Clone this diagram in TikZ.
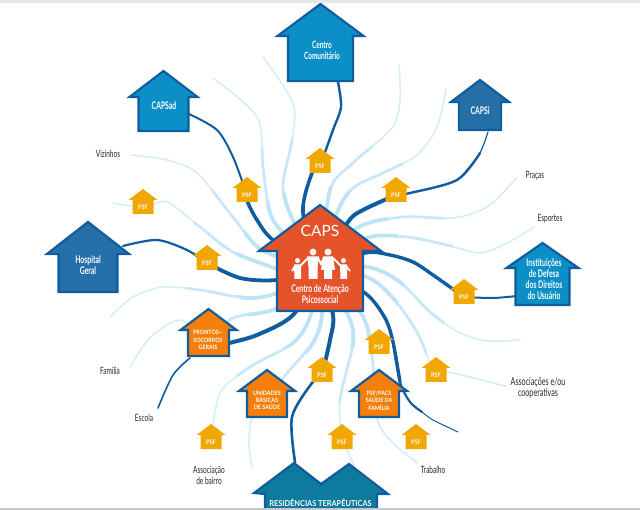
\documentclass[tikz,border=0pt]{standalone}
\usepackage{fontspec}
\setmainfont[FakeStretch=0.65]{Lato}
\newfontfamily\capsfont{Lato}
\newfontfamily\widefont[FakeStretch=0.9]{Lato}
\usetikzlibrary{calc}

\definecolor{linkdark}{HTML}{0F5C9E}
\definecolor{linklight}{HTML}{BFE3F6}
\definecolor{capsred}{HTML}{E5532A}
\definecolor{midblue}{HTML}{0C8FC6}
\definecolor{steelblue}{HTML}{2670AA}
\definecolor{carrot}{HTML}{F57F0A}
\definecolor{psfgold}{HTML}{F0A800}
\definecolor{teal}{HTML}{0D7A9E}

\pgfdeclarelayer{back}
\pgfsetlayers{back,main}

\tikzset{
  hull/.style={draw=linkdark, line width=2.2pt, line join=miter, fill=#1},
  psfhull/.style={draw=none, fill=psfgold},
  body/.style={text=white, font=\bfseries, inner sep=0pt, align=center, minimum width=#1, minimum height=30pt},
  small/.style={text=white, font=\widefont\bfseries\fontsize{6}{7.3}\selectfont, inner sep=0pt, align=center},
  psflabel/.style={text=white, font=\widefont\bfseries\fontsize{6.2}{7}\selectfont, inner sep=0pt, minimum width=21pt, minimum height=14pt},
  place/.style={text=black!85, font=\fontsize{10}{10.8}\selectfont, inner sep=0pt, align=center},
  darklink/.style={draw=linkdark, line width=#1, line cap=round, line join=round},
  darklink/.default=3pt,
  lightlink/.style={draw=linklight, line width=#1, line cap=round, line join=round},
  lightlink/.default=2.4pt
}

\newcommand{\housedraw}[7]{\draw[#1] (#2,#3) -- (#2+#4,#5) -- (#2+#6,#5) -- (#2+#6,#7) -- (#2-#6,#7) -- (#2-#6,#5) -- (#2-#4,#5) -- cycle;}

% all pale strokes, outer end first
\newcommand{\palepaths}{
plot[smooth] coordinates {($(vizinhos.east)+(11,1)$) (167,160) (197,173) (233,217) (262,250) (caps)}
plot[smooth] coordinates {(113,203) (psfb) (167,202) (200,227) (233,252) (280,270)}
plot[smooth] coordinates {(enda) (257,117) (263,167) (270,213) (285,235) (caps)}
plot[smooth] coordinates {(endb) (293,103) (292,140) (283,187) (295,225) (caps)}
plot[smooth] coordinates {(endc) (400,100) (392,128) (353,163) (330,190) (caps)}
plot[smooth] coordinates {(endd) (437,127) (417,155) (383,173) (353,188) (337,213) (caps)}
plot[smooth] coordinates {($(pracas.west)+(-9,2)$) (487,207) (453,218) (403,217) (357,228) (caps)}
plot[smooth] coordinates {($(esportes.west)+(-3,8)$) (507,243) (480,253) (447,245) (407,237) (367,238) (caps)}
plot[smooth] coordinates {(ende) (487,341) (460,333) (430,312) (400,282) (368,267) (caps)}
plot[smooth] coordinates {($(cooperativas.west)+(-4,-1)$) (448,372) (psfh) (417,332) (393,298) (367,277) (caps)}
plot[smooth] coordinates {($(trabalho.north west)+(-3,-3)$) (392,442) (377,418) (372,355) (362,315) (caps)}
plot[smooth] coordinates {($(residencias.north)+(40,-18)$) (347,450) (psfk) (340,400) (353,343) (348,315) (caps)}
plot[smooth] coordinates {(psfj) (220,393) (250,367) (293,343) (310,317) (caps)}
plot[smooth] coordinates {(endg) (249,443) (252,418) (unidades) (287,373) (313,343) (322,315) (caps)}
plot[smooth] coordinates {(endf) (133,297) (163,287) (200,290) (247,298) (277,293) (caps)}
plot[smooth] coordinates {(130,367) (150,338) (180,320) (prontos) (233,318) (277,308) (caps)}
}

\begin{document}
\begin{tikzpicture}[x=1pt,y=-1pt]
\useasboundingbox (0,0) rectangle (640,510);

% big houses
\housedraw{hull=midblue}{320.5}{4}{43}{36}{32.5}{81}
\node[body=65pt, font=\bfseries\fontsize{10}{11}\selectfont] (centro) at (322,50) {Centro\\Comunitário};
\housedraw{hull=midblue}{163.5}{71}{34}{97}{25}{131}
\node[body=50pt, font=\bfseries\fontsize{10.5}{11}\selectfont] (capsad) at (164,106) {CAPSad};
\housedraw{hull=steelblue}{480}{80}{29}{102}{21}{130}
\node[body=42pt, font=\bfseries\fontsize{10.5}{11}\selectfont] (capsi) at (480,111) {CAPSi};
\housedraw{hull=steelblue}{88}{222}{41}{254}{29.5}{292}
\node[body=59pt, font=\bfseries\fontsize{10.5}{11}\selectfont] (hospital) at (88,265.5) {Hospital\\Geral};
\housedraw{hull=midblue}{542.5}{243}{36}{268}{27}{305}
\node[body=54pt, font=\bfseries\fontsize{10.5}{10.8}\selectfont] (defesa) at (544,279) {Instituições\\de Defesa\\dos Direitos\\do Usuário};
\housedraw{hull=carrot}{208.5}{309}{28}{330}{20.5}{356}
\node[small] (prontos) at (208,340) {PRONTOS--\\SOCORROS\\GERAIS};
\housedraw{hull=carrot}{267}{370}{28}{391}{20}{417}
\node[small] (unidades) at (267,400.5) {UNIDADES\\BÁSICAS\\DE SAÚDE};
\housedraw{hull=carrot}{379}{370}{28}{391}{20}{417}
\node[small] (pacs) at (379,400.5) {PSF/PACS\\SAÚDE DA\\FAMÍLIA};

% residencias has two roofs
\draw[hull=teal] (254,493) -- (294,463) -- (321,484) -- (349,464) -- (388,494) -- (377,494) -- (377,512) -- (265,512) -- (265,494) -- cycle;
\node[text=white, font=\widefont\bfseries\fontsize{8.2}{9}\selectfont, inner sep=0pt] (residencias) at (320.5,503) {RESIDÊNCIAS TERAPÊUTICAS};

% central house
\housedraw{hull=capsred}{320}{205}{61}{251}{43}{311}
\node[text=white, font=\capsfont\fontsize{15.5}{18}\selectfont, inner sep=0pt] (capstitle) at (320,231) {CAPS};
\node[text=white, font=\bfseries\fontsize{10.6}{11}\selectfont, inner sep=0pt, align=center] (capstext) at (320,294.5) {Centro de Atenção\\Psicossocial};
\coordinate (caps) at (320,270);

% family
\fill[white] (313,252) circle (3.4) (328,252) circle (3.4) (297.5,260.5) circle (2.5) (343.5,260.5) circle (2.5);
\fill[white] (307,256.5) -- (319,256.5) -- (317.5,267) -- (317.5,279) -- (308.5,279) -- (308.5,267) -- cycle;
\fill[white] (323,256.5) -- (333,256.5) -- (335,270) -- (332,270) -- (332,279) -- (324,279) -- (324,270) -- (321,270) -- cycle;
\fill[white] (294,264.5) -- (301,264.5) -- (301,279) -- (294.5,279) -- cycle;
\fill[white] (340,264.5) -- (347,264.5) -- (347,279) -- (340.5,279) -- cycle;
\draw[white, line width=1.8pt] (308,258) -- (299,267) (318,258) -- (321,264) -- (324,258) (333,258) -- (342,267) (295,266) -- (292,271) (346,266) -- (350,271);

% small houses
\foreach \psfname/\px/\py in {psfa/247/177, psfb/143/189, psfc/320/148, psfd/396/177, psfe/207/245, psff/464/279, psfg/379/329, psfh/436/357, psfi/322/357, psfj/211/424, psfk/342/424, psfl/416/424} {
  \housedraw{psfhull}{\px}{\py}{14.5}{\py+11}{10.5}{\py+25}
  \node[psflabel] (\psfname) at (\px,\py+18) {PSF};
}

% places
\node[place] (vizinhos) at (108,154) {Vizinhos};
\node[place] (pracas) at (535,176) {Praças};
\node[place] (esportes) at (550,219) {Esportes};
\node[place] (familia) at (110,371) {Família};
\node[place] (escola) at (144,418) {Escola};
\node[place] (bairro) at (209,475.5) {Associação\\de bairro};
\node[place] (trabalho) at (433,470) {Trabalho};
\node[place, font=\fontsize{11}{11.2}\selectfont] (cooperativas) at (538,387.5) {Associações e/ou\\cooperativas};

\foreach \endname/\ex/\ey in {enda/213/78, endb/263/57, endc/399/65, endd/446/89, ende/520/340, endf/110/317, endg/252/467, endh/158/408, endi/458/432, capsifoot/488/132, centrofoot/338/82, capsadside/189/114, hospitalside/123/246, defesaside/517/296, prontosside/229/343, prontosfoot/190/358}
  \coordinate (\endname) at (\ex,\ey);

\begin{pgfonlayer}{back}
% pale strokes, wider near the centre
\foreach \rad/\wd/\pale in {600/1.6/65, 135/2.8/85, 85/3.8/100} {
  \begin{scope}
    \clip (caps) circle (\rad);
    \draw[lightlink=\wd, draw=linklight!\pale] \palepaths;
  \end{scope}
}

% dark strokes
\draw[darklink=2pt] plot[smooth] coordinates {(capsadside) (217,130) (233,157) (psfa)};
\draw[darklink=3.6pt] plot[smooth] coordinates {(psfa) (248,203) (257,220) (273,240) (caps)};
\draw[darklink=2.4pt] plot[smooth] coordinates {(centrofoot) (341,107) (333,130) (psfc)};
\draw[darklink=3.6pt] plot[smooth] coordinates {(psfc) (312,173) (303,213) (caps)};
\draw[darklink=1.2pt] plot[smooth] coordinates {(capsifoot) (480,153) (466,171)};
\draw[darklink=2.4pt] plot[smooth] coordinates {(480,153) (457,180) (410,193) (psfd)};
\draw[darklink=4pt] plot[smooth] coordinates {(psfd) (363,210) (348,222) (caps)};
\draw[darklink=2.2pt] plot[smooth] coordinates {(hospitalside) (157,240) (187,250) (psfe)};
\draw[darklink=3.8pt] plot[smooth] coordinates {(psfe) (240,278) (277,280) (caps)};
\draw[darklink=2pt] plot[smooth] coordinates {(defesaside) (493,298) (psff)};
\draw[darklink=3.4pt] plot[smooth] coordinates {(psff) (433,275) (413,262) (390,255) (365,253) (caps)};
\draw[darklink=4pt] plot[smooth] coordinates {(prontosside) (257,335) (293,315) (caps)};
\draw[darklink=1.6pt] plot[smooth] coordinates {(prontosfoot) (173,375) (endh)};
\draw[darklink=4pt] plot[smooth] coordinates {(caps) (333,315) (330,340) (psfi)};
\draw[darklink=2.6pt] plot[smooth] coordinates {(psfi) (312,383) (292,417) (295,462)};
\draw[darklink=3.4pt] plot[smooth] coordinates {(caps) (365,293) (385,318) (393,342) (400,382)};
\draw[darklink=2.2pt] plot[smooth] coordinates {(393,342) (400,382) (410,402) (422,412)};
\draw[darklink=1pt] plot[smooth] coordinates {(422,412) (433,420) (endi)};
\end{pgfonlayer}

% page edges of the scan
\fill[black!9] (0,0) rectangle (640,3);
\fill[blue!12!black!22] (0,507.5) rectangle (640,510);
\end{tikzpicture}
\end{document}
